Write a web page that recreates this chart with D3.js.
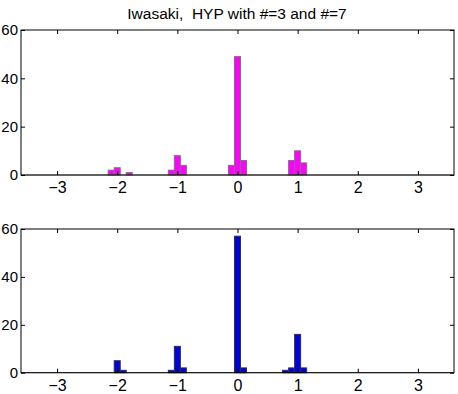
<!DOCTYPE html>
<html>
<head>
<meta charset="utf-8">
<script src="https://cdn.jsdelivr.net/npm/d3@7"></script>
<style>
  body { margin: 0; background: #fff; }
  svg { display: block; font-family: "Liberation Sans", Arial, sans-serif; }
</style>
</head>
<body>
<div id="chart"></div>
<script>
// bin centres (width 0.1) and counts
var topCenters = [-2.1, -2.0, -1.8, -1.1, -1.0, -0.9, -0.1, 0.0, 0.1, 0.9, 1.0, 1.1];
var topCounts  = [2, 3, 1, 2, 8, 4, 4, 49, 6, 6, 10, 5];
var botCenters = [-2.0, -1.9, -1.1, -1.0, -0.9, 0.0, 0.1, 0.8, 0.9, 1.0, 1.1];
var botCounts  = [5, 1, 1, 11, 2, 57, 2, 1, 2, 16, 2];
var xTicks = [-3, -2, -1, 0, 1, 2, 3];
var yTicks = [0, 20, 40, 60];
var binWidth = 0.1;
var title = "Iwasaki,  HYP with #=3 and #=7";

var W = 458, H = 394;
var svg = d3.select("#chart").append("svg")
    .attr("width", W).attr("height", H);

svg.append("text")
    .attr("x", 237).attr("y", 19)
    .attr("text-anchor", "middle")
    .style("font-size", "15.5px")
    .style("white-space", "pre")
    .text(title);

function panel(top, bottom, centers, counts, fill, edge){
    var x = d3.scaleLinear().domain([-3.6, 3.6]).range([21, 454]);
    var y = d3.scaleLinear().domain([0, 60]).range([bottom, top]);
    var g = svg.append("g");

    // baseline
    g.append("line")
        .attr("x1", 21).attr("x2", 454)
        .attr("y1", y(0)).attr("y2", y(0))
        .attr("stroke", "#888").attr("stroke-width", 1);

    g.selectAll("rect.bar").data(centers).enter().append("rect")
        .attr("class", "bar")
        .attr("x", function(d){ return x(d - binWidth/2); })
        .attr("width", function(d){ return x(d + binWidth/2) - x(d - binWidth/2); })
        .attr("y", function(d, i){ return y(counts[i]); })
        .attr("height", function(d, i){ return y(0) - y(counts[i]); })
        .attr("fill", fill)
        .attr("stroke", edge).attr("stroke-width", 1);

    var xa = g.append("g")
        .attr("transform", "translate(0," + bottom + ")")
        .call(d3.axisBottom(x).tickValues(xTicks).tickSizeInner(-4).tickSizeOuter(0)
            .tickPadding(7).tickFormat(function(d){ return d < 0 ? "\u2212" + Math.abs(d) : d; }));
    var xt = g.append("g")
        .attr("transform", "translate(0," + top + ")")
        .call(d3.axisTop(x).tickValues(xTicks).tickSizeInner(-4).tickSizeOuter(0).tickFormat(""));
    var ya = g.append("g")
        .attr("transform", "translate(21,0)")
        .call(d3.axisLeft(y).tickValues(yTicks).tickSizeInner(-4).tickSizeOuter(0).tickPadding(3));
    var yr = g.append("g")
        .attr("transform", "translate(454,0)")
        .call(d3.axisRight(y).tickValues(yTicks).tickSizeInner(-4).tickSizeOuter(0).tickFormat(""));

    [xa, xt, ya, yr].forEach(function(a){
        a.selectAll(".domain").remove();
        a.selectAll("line").attr("stroke", "#000");
        a.selectAll("text").style("font-size", "16px").attr("fill", "#000").style("font-family", "Liberation Sans, Arial, sans-serif");
    });
    ya.selectAll("text").style("font-size", "15px");

    g.append("rect")
        .attr("x", 21).attr("y", top)
        .attr("width", 433).attr("height", bottom - top)
        .attr("fill", "none").attr("stroke", "#000").attr("stroke-width", 1);
}

panel(30, 175, topCenters, topCounts, "#ff00ff", "#777");
panel(229, 372.7, botCenters, botCounts, "#0000e0", "#333");
</script>
</body>
</html>
